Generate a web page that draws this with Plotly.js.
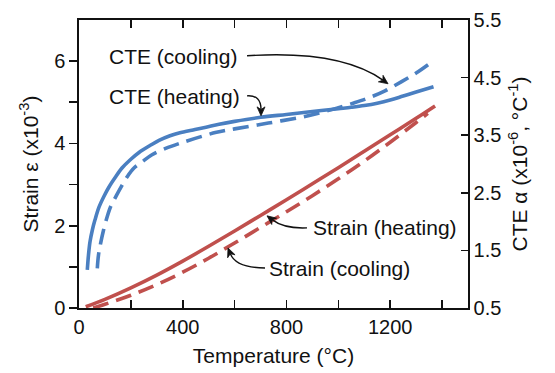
<!DOCTYPE html>
<html>
<head>
<meta charset="utf-8">
<script src="https://cdn.plot.ly/plotly-3.0.1.min.js"></script>
<style>html,body{margin:0;padding:0;background:#fff;}#chart{width:555px;height:373px;}</style>
</head>
<body>
<div id="chart"></div>
<script>
// ---- data ----
const cteHeatT = [32, 36.6, 42.4, 51.3, 61.7, 77.1, 96.4, 115.7, 138.8, 165.8, 196.7, 231.4, 273.8, 308.5, 350.9, 385.6, 447.4, 489.8, 540, 600, 700, 800, 900, 1000, 1050, 1100, 1150, 1200, 1250, 1300, 1367];
const cteHeat  = [1.16, 1.42, 1.65, 1.85, 2.03, 2.25, 2.44, 2.60, 2.76, 2.93, 3.07, 3.20, 3.32, 3.41, 3.49, 3.54, 3.60, 3.64, 3.69, 3.74, 3.81, 3.86, 3.91, 3.96, 3.985, 4.015, 4.055, 4.11, 4.18, 4.25, 4.34];

const cteCoolT = [70.6, 75.2, 83.7, 94.5, 109, 123, 141.5, 162, 186, 212, 244, 281.5, 334, 389.5, 474, 530, 600, 730, 865, 930, 994, 1060, 1118, 1180, 1244, 1300, 1354];
const cteCool  = [1.19, 1.42, 1.63, 1.85, 2.09, 2.27, 2.43, 2.60, 2.78, 2.93, 3.04, 3.16, 3.27, 3.36, 3.48, 3.55, 3.61, 3.71, 3.82, 3.89, 3.97, 4.06, 4.15, 4.27, 4.43, 4.58, 4.75];

const strainHeatT = [26, 100, 200, 300, 400, 500, 600, 700, 800, 900, 1000, 1100, 1200, 1300, 1373];
const strainHeat  = [0.03, 0.21, 0.49, 0.80, 1.14, 1.50, 1.87, 2.25, 2.63, 3.02, 3.41, 3.81, 4.21, 4.61, 4.91];

const strainCoolT = [55, 100, 200, 300, 400, 500, 600, 700, 800, 900, 1000, 1100, 1200, 1300, 1345];
const strainCool  = [0.0, 0.09, 0.31, 0.57, 0.87, 1.21, 1.58, 1.96, 2.34, 2.73, 3.14, 3.57, 4.03, 4.51, 4.73];

const xMajor = [0, 400, 800, 1200];
const xMinor = [200, 600, 1000, 1400];
const yMajor = [0, 2, 4, 6];
const yMinor = [1, 3, 5];
const y2Major = [0.5, 1.5, 2.5, 3.5, 4.5, 5.5];

const labels = ['CTE (cooling)', 'CTE (heating)', 'Strain (heating)', 'Strain (cooling)'];

// ---- style ----
const BLUE = '#4A7FC1';
const RED = '#C0504D';
const INK = '#111';
const FONT = 'Liberation Sans, Arial, Helvetica, sans-serif';
const LW = 3.6;
const DASH = '16px,8px';
const SPL = {shape: 'spline', smoothing: 1};

const traces = [
  {x: cteHeatT, y: cteHeat, yaxis: 'y2', mode: 'lines', line: Object.assign({color: BLUE, width: LW}, SPL), name: labels[1]},
  {x: cteCoolT, y: cteCool, yaxis: 'y2', mode: 'lines', line: Object.assign({color: BLUE, width: LW, dash: DASH}, SPL), name: labels[0]},
  {x: strainHeatT, y: strainHeat, mode: 'lines', line: Object.assign({color: RED, width: LW}, SPL), name: labels[2]},
  {x: strainCoolT, y: strainCool, mode: 'lines', line: Object.assign({color: RED, width: LW, dash: DASH}, SPL), name: labels[3]}
];

const txtFont = {family: FONT, size: 21, color: INK};

function lab(text, x, y) {
  return {text: text, x: x, y: y, xref: 'x', yref: 'y', xanchor: 'left', yanchor: 'middle', showarrow: false, font: txtFont};
}

// curved callout arrow: anchored at its tip (data coords), geometry in pixel offsets (y up)
function callout(tipX, tipY, start, ctrl) {
  const dx = -ctrl[0], dy = -ctrl[1];
  const L = Math.hypot(dx, dy);
  const ux = dx / L, uy = dy / L;          // direction toward tip
  const px = -uy, py = ux;                 // perpendicular
  const hl = 9, hw = 4;
  const bx = -ux * hl, by = -uy * hl;      // base centre
  const nx = -ux * hl * 0.7, ny = -uy * hl * 0.7; // notch
  const f = v => v.toFixed(2);
  const common = {xref: 'x', yref: 'y', xsizemode: 'pixel', ysizemode: 'pixel', xanchor: tipX, yanchor: tipY};
  const curve = Object.assign({type: 'path', line: {color: INK, width: 1.4},
    path: 'M ' + f(start[0]) + ',' + f(start[1]) + ' Q ' + f(ctrl[0]) + ',' + f(ctrl[1]) + ' ' + f(nx) + ',' + f(ny)}, common);
  const headShape = Object.assign({type: 'path', line: {color: INK, width: 0.8}, fillcolor: INK,
    path: 'M 0,0 L ' + f(bx + px * hw) + ',' + f(by + py * hw) + ' L ' + f(nx) + ',' + f(ny) + ' L ' + f(bx - px * hw) + ',' + f(by - py * hw) + ' Z'}, common);
  return [curve, headShape];
}

const shapes = [].concat(
  callout(1191.7, 5.45, [-141, 28], [-48, 34]),
  callout(701.9, 4.67, [-14, 20], [0, 21]),
  callout(725.0, 2.24, [40, -12], [17, -13]),
  callout(574.6, 1.46, [37, -20], [8, -20])
);

const axisBase = {
  showline: true, linecolor: INK, linewidth: 1.6, tickwidth: 1.6, tickcolor: INK,
  showgrid: false, zeroline: false, tickfont: {family: FONT, size: 20, color: INK}
};

const layout = {
  width: 555, height: 373,
  margin: {l: 79, r: 87, t: 20, b: 65},
  paper_bgcolor: '#fff', plot_bgcolor: '#fff',
  showlegend: false,
  font: {family: FONT, size: 20, color: INK},
  xaxis: Object.assign({}, axisBase, {
    range: [0, 1500], tickmode: 'array', tickvals: xMajor,
    ticks: 'inside', ticklen: 8, mirror: 'ticks',
    minor: {tickvals: xMinor, ticks: 'inside', ticklen: 8, tickwidth: 1.6, tickcolor: INK, showgrid: false},
    title: {text: 'Temperature (°C)', font: {family: FONT, size: 21, color: INK}, standoff: 12}
  }),
  yaxis: Object.assign({}, axisBase, {
    range: [0, 7], tickmode: 'array', tickvals: yMajor,
    ticks: 'outside', ticklen: 8,
    minor: {tickvals: yMinor, ticks: 'outside', ticklen: 8, tickwidth: 1.6, tickcolor: INK, showgrid: false},
    title: {text: 'Strain ε (x10<sup>-3</sup>)', font: {family: FONT, size: 21, color: INK}, standoff: 10}
  }),
  yaxis2: Object.assign({}, axisBase, {
    overlaying: 'y', side: 'right', range: [0.5, 5.5], tickmode: 'array', tickvals: y2Major,
    ticks: 'inside', ticklen: 7,
    title: {text: 'CTE α (x10<sup>-6</sup>, °C<sup>-1</sup>)', font: {family: FONT, size: 21, color: INK}, standoff: 12}
  }),
  shapes: shapes,
  annotations: [
    lab(labels[0], 108, 6.11),
    lab(labels[1], 108, 5.13),
    lab(labels[2], 895, 1.95),
    lab(labels[3], 725, 0.95)
  ]
};

Plotly.newPlot('chart', traces, layout, {displayModeBar: false, staticPlot: true});
</script>
</body>
</html>
